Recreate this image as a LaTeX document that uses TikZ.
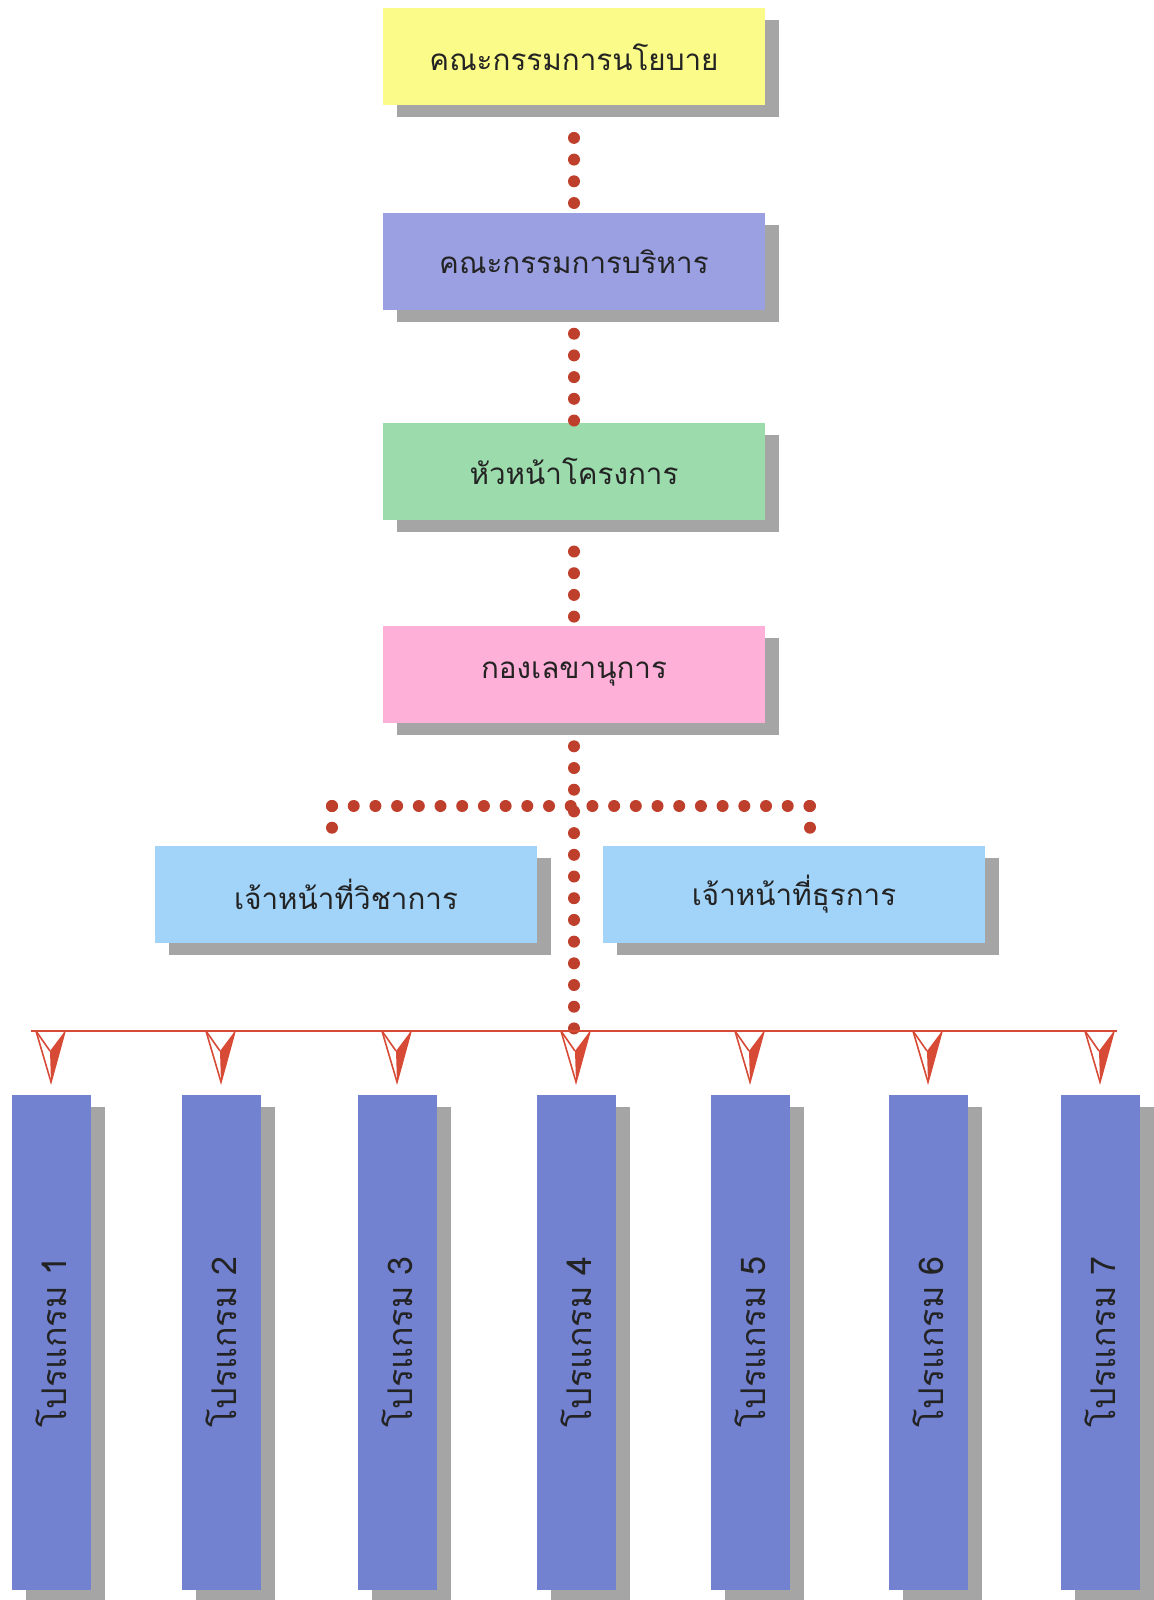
\documentclass[tikz,border=0pt]{standalone}
\usepackage{fontspec}
\newfontfamily\thaifont[Script=Thai]{Loma}
\usetikzlibrary{positioning,shadows}

\definecolor{policyfill}{RGB}{251,251,138}
\definecolor{execfill}{RGB}{155,160,226}
\definecolor{leadfill}{RGB}{155,219,172}
\definecolor{secfill}{RGB}{255,176,216}
\definecolor{stafffill}{RGB}{162,212,250}
\definecolor{progfill}{RGB}{114,129,208}
\definecolor{shadowgray}{RGB}{165,165,165}
\definecolor{dotred}{RGB}{190,64,44}
\definecolor{busred}{RGB}{214,74,54}
\definecolor{textdark}{RGB}{35,35,35}

\begin{document}
\begin{tikzpicture}[
            x=0.5pt, y=-0.5pt,
            box/.style={rectangle, minimum width=191pt, minimum height=48.5pt, text=textdark,
                font=\thaifont\fontsize{14.8}{18}\selectfont,
                drop shadow={shadow xshift=7pt, shadow yshift=-6pt, fill=shadowgray, opacity=1}},
            prog/.style={box, minimum width=39.5pt, minimum height=247.5pt, fill=progfill,
                font=\thaifont\fontsize{17}{20}\selectfont},
            dotline/.style={draw=dotred, line width=6pt, line cap=round, dash pattern=on 0pt off 10.85pt},
            bus/.style={draw=busred, line width=1pt},
            vtip/.pic={
                \fill[busred] (-1,20) -- (14,0) -- (0,51) -- cycle;
                \draw[busred, line width=0.8pt] (-15,0) -- (14,0) -- (0,51) -- cycle;
                \draw[busred, line width=0.8pt] (-15,0) -- (-1,20);
            }
        ]
        \useasboundingbox (0,0) rectangle (1153,1600);
        \node[box, fill=policyfill] (policy) at (574,57) {คณะกรรมการนโยบาย};
        \node[box, fill=execfill, below=53.5pt of policy] (exec) {คณะกรรมการบริหาร};
        \node[box, fill=leadfill, below=56pt of exec] (lead) {หัวหน้าโครงการ};
        \node[box, fill=secfill, below=52.5pt of lead] (sec) {กองเลขานุการ};
        \node[box, fill=stafffill] (acad) at (346,894) {เจ้าหน้าที่วิชาการ};
        \node[box, fill=stafffill] (admin) at (794,894) {เจ้าหน้าที่ธุรการ};
        \coordinate (busL) at (31,1031);
        \coordinate (busR) at (1117,1031);
        \coordinate (busC) at (sec |- busL);
        \coordinate (hL) at (332,806);
        \coordinate (hR) at (810,806);
        \draw[dotline, shorten <=16pt] (policy) -- (exec);
        \draw[dotline, shorten <=11.5pt] (exec) -- (lead);
        \draw[dotline, shorten <=15.5pt] (lead) -- (sec);
        \draw[dotline, shorten <=11.5pt] (sec) -- (busC);
        \draw[dotline] (hL) -- (hR);
        \draw[dotline] (hL) -- (hL |- acad.north);
        \draw[dotline] (hR) -- (hR |- admin.north);
        \draw[bus] (busL) -- (busR);
        \foreach \i/\x in {1/51,2/221,3/397,4/576,5/750,6/928,7/1100} {
            \node[prog] (prog\i) at (\x,1342) {\rotatebox{90}{โปรแกรม \i}};
            \coordinate (bus\i) at (prog\i |- busL);
            \pic at (bus\i) {vtip};
        }
\end{tikzpicture}
\end{document}
